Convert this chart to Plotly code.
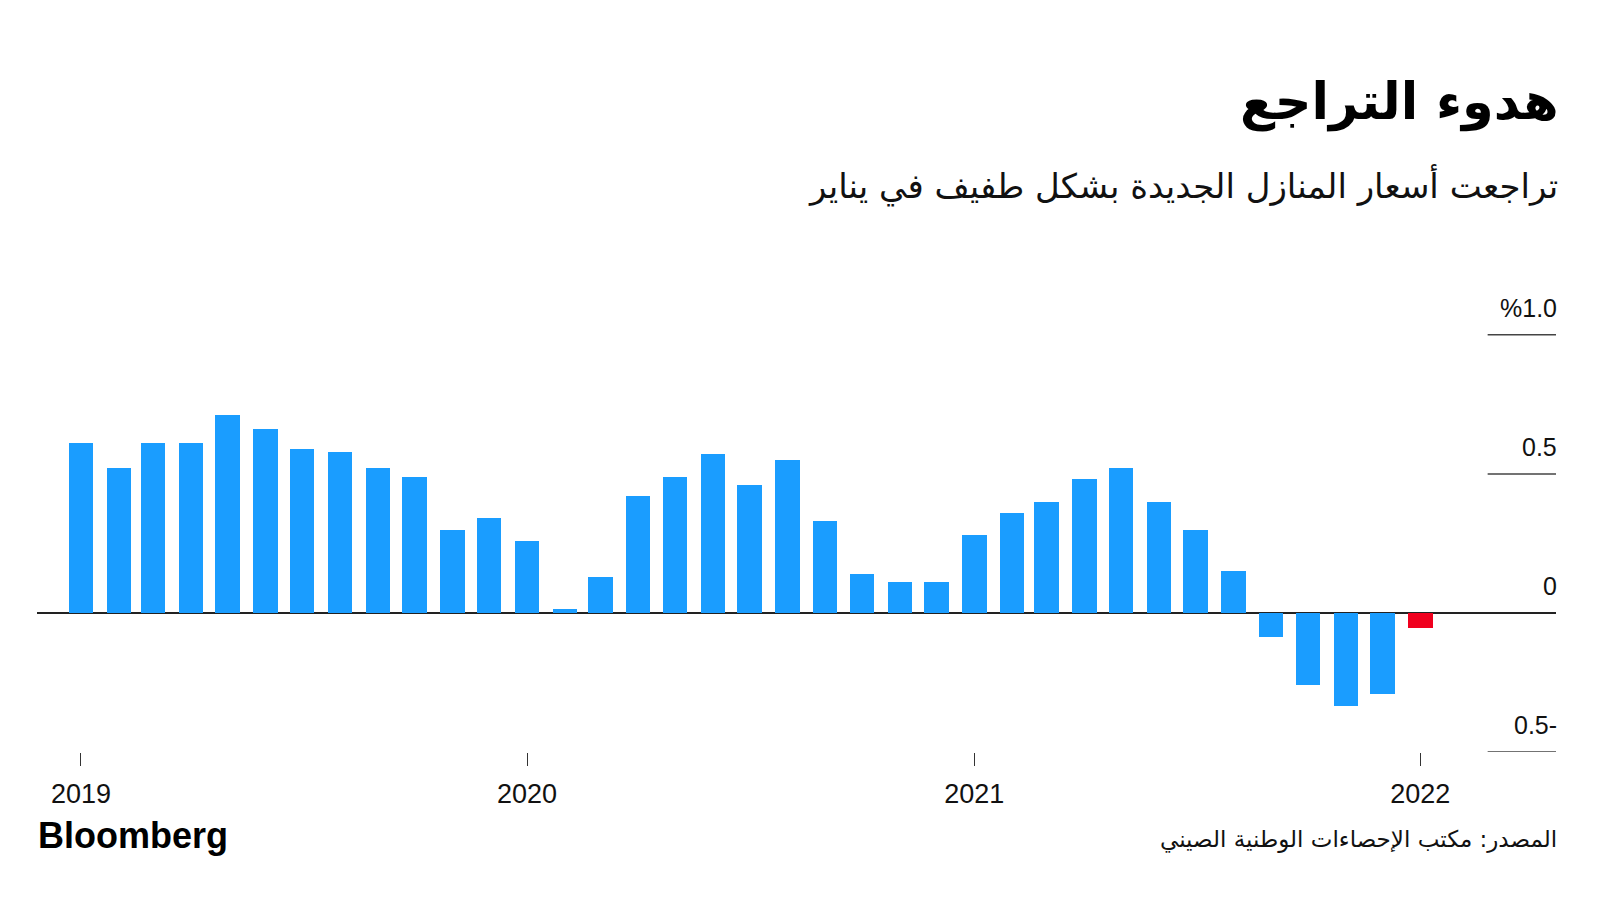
import plotly.graph_objects as go

months = [f"{y}-{m:02d}-01" for y in (2019, 2020, 2021) for m in range(1, 13)] + ["2022-01-01"]
values = [0.61, 0.52, 0.61, 0.61, 0.71, 0.66, 0.59, 0.58, 0.52, 0.49, 0.30, 0.34,
          0.26, 0.015, 0.13, 0.42, 0.49, 0.57, 0.46, 0.55, 0.33, 0.14, 0.11, 0.11,
          0.28, 0.36, 0.40, 0.48, 0.52, 0.40, 0.30, 0.15, -0.085, -0.26, -0.335, -0.29,
          -0.053]
bar_colors = ["#1a9dff"] * (len(values) - 1) + ["#f0001e"]

year_ticks = ["2019-01-01", "2020-01-01", "2021-01-01", "2022-01-01"]
year_labels = ["2019", "2020", "2021", "2022"]
y_ticks = [1.0, 0.5, 0, -0.5]
y_labels = ["%1.0", "0.5", "0", "0.5-"]

title = "هدوء التراجع"
subtitle = "تراجعت أسعار المنازل الجديدة بشكل طفيف في يناير"
source = "المصدر: مكتب الإحصاءات الوطنية الصيني"

AR = "DejaVu Sans"
NUM = "Liberation Sans, Arial, sans-serif"

fig = go.Figure()
fig.add_trace(go.Bar(
    x=months, y=values, marker=dict(color=bar_colors, line=dict(width=0)),
    width=20 * 24 * 3600 * 1000, hoverinfo="skip",
))

PT, PB = 307, 752
H = PB - PT

def py(p):
    return (PB - p) / H

fig.update_layout(
    width=1600, height=900,
    margin=dict(l=37, r=44, t=PT, b=900 - PB),
    paper_bgcolor="white", plot_bgcolor="white",
    showlegend=False,
    bargap=0,
    xaxis=dict(
        type="date", range=["2018-11-26", "2022-04-22"],
        tickvals=year_ticks, ticktext=year_labels,
        ticks="outside", ticklen=13, tickwidth=1, tickcolor="#333",
        showgrid=False, showline=False, zeroline=False,
        tickfont=dict(family=NUM, size=27, color="#111"),
        ticklabelstandoff=5,
    ),
    yaxis=dict(
        range=[-0.5, 1.1], showgrid=False, showticklabels=False,
        zeroline=True, zerolinecolor="#222", zerolinewidth=1.5,
        fixedrange=True,
    ),
)

for v, lab in zip(y_ticks, y_labels):
    if v != 0:
        fig.add_shape(type="line", xref="paper", yref="y", x0=0.955, x1=1, y0=v, y1=v,
                      line=dict(color="#444", width=1.5), layer="below")
    fig.add_annotation(x=1, y=v, xref="paper", yref="y", text=lab, showarrow=False,
                       xanchor="right", yanchor="bottom", yshift=11, xshift=3,
                       font=dict(family=NUM, size=25, color="#111"))

fig.add_annotation(x=1, y=py(102), xref="paper", yref="paper", text=f"<b>{title}</b>",
                   showarrow=False, xanchor="right", yanchor="middle", xshift=5,
                   font=dict(family=AR, size=51, color="#000"))
fig.add_annotation(x=1, y=py(185), xref="paper", yref="paper", text=subtitle,
                   showarrow=False, xanchor="right", yanchor="middle", xshift=4,
                   font=dict(family=AR, size=34, color="#111"))
fig.add_annotation(x=0, y=py(835), xref="paper", yref="paper", text="<b>Bloomberg</b>",
                   showarrow=False, xanchor="left", yanchor="middle", xshift=-1,
                   font=dict(family=NUM, size=36, color="#000"))
fig.add_annotation(x=1, y=py(839), xref="paper", yref="paper", text=source,
                   showarrow=False, xanchor="right", yanchor="middle", xshift=3,
                   font=dict(family=AR, size=23, color="#111"))

fig.write_html("out.html")
